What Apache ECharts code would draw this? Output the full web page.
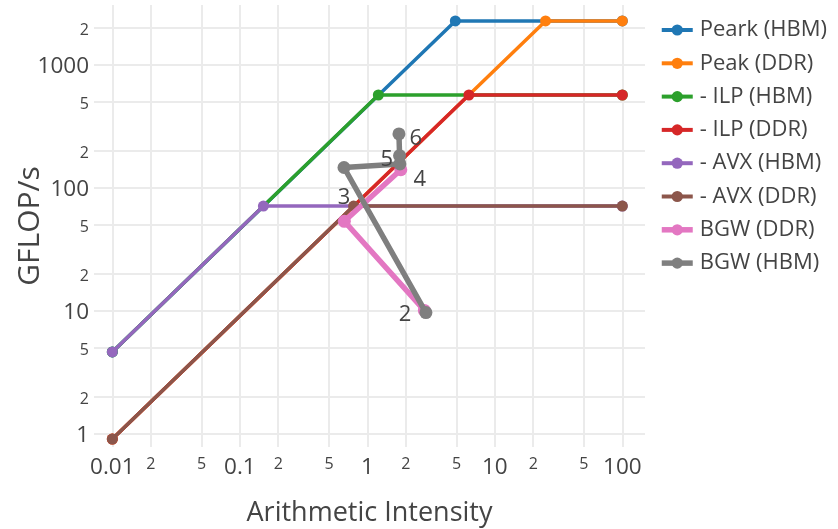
<!DOCTYPE html>
<html>
<head>
<meta charset="utf-8">
<script src="https://cdn.jsdelivr.net/npm/echarts@6/dist/echarts.min.js"></script>
<style>
  html, body { margin: 0; padding: 0; background: #fff; }
  #chart { width: 838px; height: 529px; }
</style>
</head>
<body>
<div id="chart"></div>
<script>
// ---- Data ----
const seriesNames = ['Peark (HBM)', 'Peak (DDR)', '- ILP (HBM)', '- ILP (DDR)', '- AVX (HBM)', '- AVX (DDR)', 'BGW (DDR)', 'BGW (HBM)'];
const colors = ['#1f77b4', '#ff7f0e', '#2ca02c', '#d62728', '#9467bd', '#8c564b', '#e377c2', '#7f7f7f'];

const peakHbmX = [0.01, 4.9, 100];
const peakHbmY = [4.6, 2253, 2253];
const peakDdrX = [0.01, 25, 100];
const peakDdrY = [0.9, 2253, 2253];
const ilpHbmX = [0.01, 1.22, 100];
const ilpHbmY = [4.6, 563, 563];
const ilpDdrX = [0.01, 6.26, 100];
const ilpDdrY = [0.9, 563, 563];
const avxHbmX = [0.01, 0.153, 100];
const avxHbmY = [4.6, 70.4, 70.4];
const avxDdrX = [0.01, 0.78, 100];
const avxDdrY = [0.9, 70.4, 70.4];

const bgwDdrX = [2.8, 0.66, 1.83];
const bgwDdrY = [10, 53, 139];
const bgwHbmX = [2.88, 0.656, 1.8, 1.79, 1.77];
const bgwHbmY = [9.6, 145, 155, 181, 272];
const bgwHbmText = ['2', '3', '4', '5', '6'];

const xTickValues = [0.01, 0.02, 0.05, 0.1, 0.2, 0.5, 1, 2, 5, 10, 20, 50, 100];
const xTickLabels = ['0.01', '2', '5', '0.1', '2', '5', '1', '2', '5', '10', '2', '5', '100'];
const yTickValues = [1, 2, 5, 10, 20, 50, 100, 200, 500, 1000, 2000];
const yTickLabels = ['1', '2', '5', '10', '2', '5', '100', '2', '5', '1000', '2'];

// ---- Helpers ----
function zip(xs, ys) { return xs.map((x, i) => [x, ys[i]]); }
function tickFormatter(values, labels) {
  return function (v) {
    for (let i = 0; i < values.length; i++) {
      if (Math.abs(Math.log10(v) - Math.log10(values[i])) < 1e-6) {
        const t = labels[i];
        const major = Math.abs(Math.log10(values[i]) - Math.round(Math.log10(values[i]))) < 1e-6;
        return major ? '{maj|' + t + '}' : '{min|' + t + '}';
      }
    }
    return '';
  };
}
const FONT = '"Open Sans", "Noto Sans", sans-serif';
const TEXT = '#444';
const richX = {
  maj: { fontSize: 22.5, color: TEXT, fontFamily: FONT },
  min: { fontSize: 16, color: TEXT, fontFamily: FONT }
};
const richY = {
  maj: { fontSize: 22.5, color: TEXT, fontFamily: FONT, padding: [5, 0, 0, 0] },
  min: { fontSize: 16, color: TEXT, fontFamily: FONT, padding: [6, 0, 0, 0] }
};

function roofSeries(idx, xs, ys) {
  return {
    name: seriesNames[idx], type: 'line', data: zip(xs, ys),
    symbol: 'circle', symbolSize: 11, showSymbol: true,
    lineStyle: { width: 3.5, color: colors[idx] },
    itemStyle: { color: colors[idx] },
    emphasis: { disabled: true }, z: 2 + idx, animation: false
  };
}

const labelPos = [
  { position: 'left', distance: 8, offset: [0, 2] },
  { position: 'bottom', distance: 13, offset: [0, 0] },
  { position: 'right', distance: 7, offset: [0, 16] },
  { position: 'left', distance: 0, offset: [0, 4] },
  { position: 'right', distance: 4, offset: [0, 5] }
];

const hbmData = bgwHbmX.map((x, i) => ({
  value: [x, bgwHbmY[i]],
  label: Object.assign({ show: true, formatter: bgwHbmText[i], fontSize: 22, color: TEXT, fontFamily: FONT }, labelPos[i])
}));

const legendData = seriesNames.map((n, i) => ({
  name: n,
  lineStyle: { width: i >= 6 ? 5.5 : 4 }
}));

const option = {
  animation: false,
  backgroundColor: '#fff',
  color: colors,
  grid: { left: 94, right: 193, top: 5, bottom: 82, containLabel: false, outerBoundsMode: 'none' },
  xAxis: {
    type: 'log', logBase: 10, min: 0.00718, max: 150.6,
    name: 'Arithmetic Intensity', nameLocation: 'middle', nameGap: 53, nameMoveOverlap: false,
    nameTextStyle: { fontSize: 27, color: TEXT, fontFamily: FONT },
    axisLine: { show: false }, axisTick: { show: false, customValues: xTickValues },
    axisLabel: { customValues: xTickValues, formatter: tickFormatter(xTickValues, xTickLabels), rich: richX, margin: 9 },
    splitLine: { show: true, lineStyle: { color: '#ebebeb', width: 2 } },
    minorSplitLine: { show: false }
  },
  yAxis: {
    type: 'log', logBase: 10, min: 0.776, max: 3034,
    name: 'GFLOP/s', nameLocation: 'middle', nameGap: 49, nameMoveOverlap: false,
    nameTextStyle: { fontSize: 30, color: TEXT, fontFamily: FONT },
    axisLine: { show: false }, axisTick: { show: false, customValues: yTickValues },
    axisLabel: { customValues: yTickValues, formatter: tickFormatter(yTickValues, yTickLabels), rich: richY, margin: 5 },
    splitLine: { show: true, lineStyle: { color: '#ebebeb', width: 2 } }
  },
  legend: {
    orient: 'vertical', left: 659, top: 19, padding: 0, itemWidth: 31, itemHeight: 14, itemGap: 11.3,
    textStyle: { fontSize: 22, color: TEXT, fontFamily: FONT, lineHeight: 22, padding: [0, 0, 0, 2] },
    data: legendData
  },
  series: [
    roofSeries(0, peakHbmX, peakHbmY),
    roofSeries(1, peakDdrX, peakDdrY),
    roofSeries(2, ilpHbmX, ilpHbmY),
    roofSeries(3, ilpDdrX, ilpDdrY),
    roofSeries(4, avxHbmX, avxHbmY),
    roofSeries(5, avxDdrX, avxDdrY),
    {
      name: seriesNames[6], type: 'line', data: zip(bgwDdrX, bgwDdrY),
      symbol: 'circle', symbolSize: 13, showSymbol: true,
      lineStyle: { width: 5.5, color: colors[6] }, itemStyle: { color: colors[6] },
      emphasis: { disabled: true }, z: 10
    },
    {
      name: seriesNames[7], type: 'line', data: hbmData,
      symbol: 'circle', symbolSize: 13, showSymbol: true,
      lineStyle: { width: 5.5, color: colors[7] }, itemStyle: { color: colors[7] },
      emphasis: { disabled: true }, z: 11
    }
  ]
};

const chart = echarts.init(document.getElementById('chart'), null, { renderer: 'canvas' });
chart.setOption(option);
</script>
</body>
</html>
